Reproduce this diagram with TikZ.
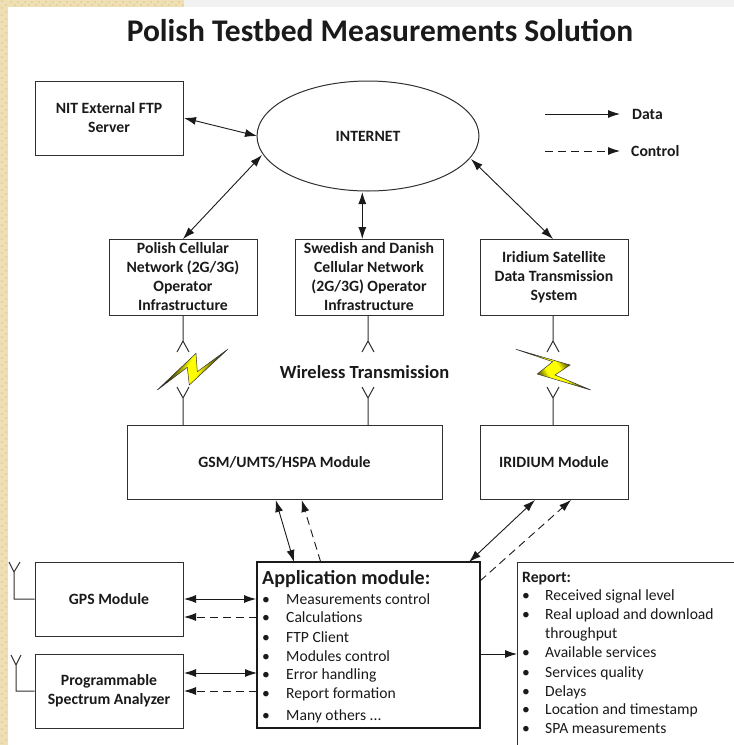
\documentclass[tikz,border=0pt]{standalone}
\usepackage{fontspec}
\setmainfont{Carlito}
\usetikzlibrary{arrows.meta,shapes.geometric}
\definecolor{ink}{HTML}{1A1A1A}
\definecolor{edge}{HTML}{303030}
\definecolor{tan}{HTML}{EFDFB4}
\definecolor{tanb}{HTML}{E6D29C}
\pgfdeclarehorizontalshading{boltshade}{100bp}{color(0bp)=(black); color(34bp)=(black); color(45bp)=(yellow); color(55bp)=(yellow); color(66bp)=(black); color(100bp)=(black)}
\newcommand{\fs}[2]{\fontsize{#1}{#2}\selectfont}
\tikzset{
  x=1pt,y=-1pt,
  box/.style={draw=edge,line width=1pt,inner sep=0pt,align=center,font=\fs{15.7}{19}\bfseries,text=ink,fill=white},
  lab/.style={inner sep=0pt,anchor=base west,text=ink,font=\fs{15.6}{19}},
  dat/.style={draw=ink,line width=0.9pt,{Latex[length=12pt,width=8pt]}-{Latex[length=12pt,width=8pt]}},
  one/.style={draw=ink,line width=0.9pt,-{Latex[length=12pt,width=8pt]}},
  ctl/.style={draw=ink,line width=0.9pt,dash pattern=on 8pt off 5pt,-{Latex[length=12pt,width=8pt]}},
  wire/.style={draw=edge,line width=1pt},
  bolt/.style={draw=black!80,line width=0.5pt,shading=boltshade}
}
\newcommand{\bx}[7]{\node[box,minimum width=#4pt,minimum height=#5pt,#7] (#1) at (#2,#3) {#6};}
\begin{document}
\begin{tikzpicture}
\useasboundingbox (0,0) rectangle (734,745);
% page edge
\fill[white] (0,0) rectangle (734,745);
\fill[tan] (0,0) rectangle (8,745);
\fill[tan] (0,0) rectangle (184,7);
\fill[black!5] (184,0) rectangle (734,7);
\foreach \k in {0,7,...,742} {\fill[tanb] (0.5,\k) rectangle (3,\k+2); \fill[tanb] (4.5,\k+3.5) rectangle (7,\k+5.5);}
\foreach \k in {10,17,...,180} {\fill[tanb] (\k,0.5) rectangle (\k+2,3); \fill[tanb] (\k+3.5,4) rectangle (\k+5.5,6);}
% title
\node[inner sep=0pt,text=ink,font=\fs{31.5}{34}\bfseries] (title) at (380,31) {Polish Testbed Measurements Solution};
% boxes
\bx{nit}{109}{118}{148}{74}{NIT External FTP\\Server}{}
\node[draw=edge,line width=1pt,ellipse,minimum width=222pt,minimum height=110pt,inner sep=0pt,font=\fs{15.7}{19}\bfseries,text=ink] (inet) at (368,136) {INTERNET};
\bx{pol}{183}{277}{148}{76}{Polish Cellular\\Network (2G/3G)\\Operator\\Infrastructure}{}
\bx{swe}{369}{277}{148}{76}{Swedish and Danish\\Cellular Network\\(2G/3G) Operator\\Infrastructure}{}
\bx{iri}{554}{277}{148}{76}{Iridium Satellite\\Data Transmission\\System}{}
\bx{gsm}{284.5}{462}{315}{74}{GSM/UMTS/HSPA Module}{}
\bx{irm}{554}{462}{148}{74}{IRIDIUM Module}{}
\bx{gps}{109}{599}{148}{74}{GPS Module}{}
\bx{spa}{109}{691}{148}{74}{Programmable\\Spectrum Analyzer}{}
\bx{app}{368.5}{645}{223}{166}{}{line width=1.8pt,draw=ink}
% report: open box, cut by the picture edge
\coordinate (rt) at (734,562);
\coordinate (rc) at (517,562);
\coordinate (rb) at (517,745);
\coordinate (rm) at (517,654);
\draw[wire] (rt) -- (rc) -- (rb);
% legend
\coordinate (la) at (545,114); \coordinate (lb) at (620,114);
\coordinate (lc) at (545,151); \coordinate (ld) at (620,151);
\draw[one] (la) -- (lb);
\draw[ctl] (lc) -- (ld);
\node[lab,font=\fs{15.7}{19}\bfseries] (ldata) at (632,119) {Data};
\node[lab,font=\fs{15.7}{19}\bfseries] (lctl) at (631,156) {Control};
% internet links
\draw[dat] (184,118) -- (257,136);
\draw[dat] (183,239) -- (262,155);
\draw[dat] (362.3,192) -- (362.3,239);
\draw[dat] (471,159) -- (553,239);
% module links
\draw[dat] (275.7,500) -- (294,562);
\draw[ctl] (320.7,562) -- (301.7,500);
\draw[dat] (535,500) -- (469,562);
\draw[ctl] (480,581) -- (571,500);
\draw[dat] (184,599) -- (app.west |- gps);
\draw[ctl] (257,617) -- (184,617);
\draw[dat] (184,673) -- (257,673);
\draw[ctl] (257,691) -- (184,691);
\draw[one] (app.east |- rm) -- (rm);
% antennas on modules
\draw[wire] (gps.west) -- (14,599) -- (14,572) (9,562) -- (14,572) -- (20,562);
\draw[wire] (spa.west) -- (16,691) -- (16,665) (11,655) -- (16,665) -- (21,655);
% wireless antennas
\foreach \n/\m/\x in {pol/gsm/183,swe/gsm/368,iri/irm/553} {
  \draw[wire] (\x,315) -- (\x,341) (\x-6,352) -- (\x,341) -- (\x+6,352);
  \draw[wire] (\x,425) -- (\x,398) (\x-6,387) -- (\x,398) -- (\x+6,387);
}
% bolts
\draw[bolt,shading angle=-30] (157.3,390) -- (196,353.3) -- (197.3,371.7) -- (227.7,349.3) -- (189.3,385) -- (187.3,367.3) -- cycle;
\draw[bolt,shading angle=30] (516,349.3) -- (570,365) -- (555,375) -- (590.7,390) -- (537.3,374) -- (552.7,361.7) -- cycle;
\node[inner sep=0pt,text=ink,font=\fs{18.5}{21}\bfseries] (wl) at (364.5,372) {Wireless Transmission};
% application text
\node[lab,font=\fs{20}{22}\bfseries] (apph) at (262,584) {Application module:};
\foreach \i/\y/\t in {1/604/Measurements control,2/622/Calculations,3/642/FTP Client,4/661/Modules control,5/679/Error handling,6/698/Report formation,7/720/Many others .{}.{}.} {
  \node[lab] (ab\i) at (262,\y) {•};
  \node[lab] (at\i) at (286,\y) {\t};
}
% report text
\node[lab,font=\fs{15.7}{19}\bfseries] (reph) at (522,582) {Report:};
\foreach \i/\y/\t in {1/600/Received signal level,2/619/Real upload and download,4/657/Available services,5/677/Services quality,6/696/Delays,7/714/Location and timestamp,8/733/SPA measurements} {
  \node[lab] (rb\i) at (522,\y) {•};
  \node[lab] (rt\i) at (545,\y) {\t};
}
\node[lab] (rt3) at (545,638) {throughput};
\end{tikzpicture}
\end{document}
